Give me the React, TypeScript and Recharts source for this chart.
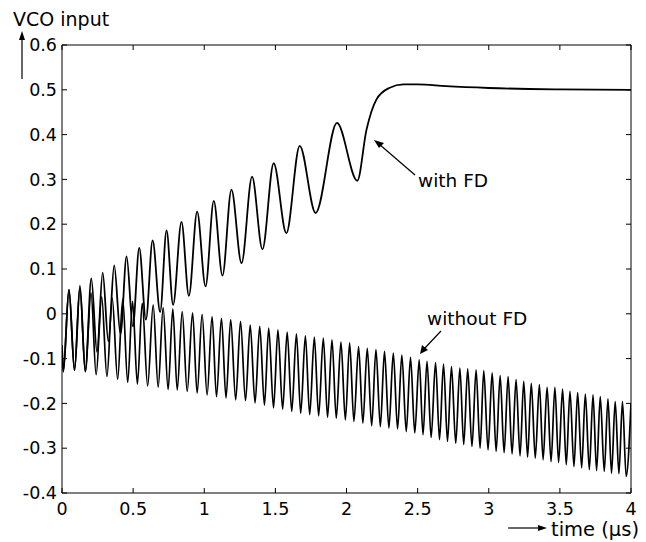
import React from "react";
import { LineChart, Line, XAxis, YAxis } from "recharts";

// time (µs), VCO input — extrema and key points
const withoutFd: [number, number][] = [
  [0, -0.07], [0.009, -0.129], [0.049, 0.054], [0.088, -0.126], [0.126, 0.057],
  [0.164, -0.129], [0.204, 0.047], [0.24, -0.136], [0.279, 0.038], [0.316, -0.14],
  [0.353, 0.035], [0.391, -0.146], [0.427, 0.033], [0.462, -0.153], [0.496, 0.028],
  [0.53, -0.157], [0.564, 0.024], [0.602, -0.161], [0.641, 0.02], [0.676, -0.164],
  [0.711, 0.014], [0.746, -0.169], [0.779, 0.011], [0.81, -0.17], [0.845, 0.005],
  [0.88, -0.173], [0.918, 0.002], [0.95, -0.177], [0.985, -0.001], [1.02, -0.181],
  [1.055, -0.006], [1.086, -0.185], [1.121, -0.01], [1.153, -0.188], [1.186, -0.013],
  [1.221, -0.192], [1.255, -0.017], [1.29, -0.194], [1.323, -0.025], [1.357, -0.199],
  [1.39, -0.028], [1.423, -0.204], [1.453, -0.032], [1.487, -0.21], [1.518, -0.036],
  [1.551, -0.213], [1.583, -0.041], [1.615, -0.218], [1.648, -0.045], [1.678, -0.222],
  [1.711, -0.049], [1.741, -0.225], [1.774, -0.052], [1.804, -0.228], [1.837, -0.054],
  [1.867, -0.231], [1.898, -0.058], [1.928, -0.233], [1.961, -0.063], [1.992, -0.237],
  [2.022, -0.065], [2.052, -0.24], [2.085, -0.073], [2.115, -0.244], [2.146, -0.077],
  [2.177, -0.25], [2.207, -0.08], [2.238, -0.252], [2.267, -0.084], [2.298, -0.255],
  [2.329, -0.088], [2.359, -0.257], [2.389, -0.092], [2.42, -0.263], [2.45, -0.097],
  [2.48, -0.266], [2.511, -0.103], [2.538, -0.27], [2.566, -0.106], [2.595, -0.276],
  [2.626, -0.109], [2.654, -0.281], [2.682, -0.112], [2.71, -0.285], [2.738, -0.118],
  [2.768, -0.289], [2.797, -0.121], [2.824, -0.292], [2.852, -0.123], [2.882, -0.296],
  [2.911, -0.125], [2.939, -0.3], [2.965, -0.127], [2.995, -0.304], [3.024, -0.132],
  [3.052, -0.307], [3.08, -0.138], [3.108, -0.31], [3.136, -0.14], [3.164, -0.313],
  [3.192, -0.147], [3.22, -0.317], [3.246, -0.151], [3.273, -0.32], [3.299, -0.155],
  [3.327, -0.322], [3.356, -0.158], [3.382, -0.326], [3.41, -0.164], [3.438, -0.33],
  [3.465, -0.164], [3.491, -0.332], [3.519, -0.168], [3.545, -0.337], [3.571, -0.173],
  [3.599, -0.341], [3.625, -0.176], [3.653, -0.344], [3.679, -0.179], [3.707, -0.348],
  [3.733, -0.181], [3.758, -0.35], [3.784, -0.185], [3.812, -0.352], [3.838, -0.19],
  [3.863, -0.356], [3.889, -0.196], [3.915, -0.357], [3.94, -0.196], [3.966, -0.363],
  [4.0, -0.2],
];

const withFd: [number, number][] = [
  [0, -0.07], [0.009, -0.129], [0.049, 0.054], [0.088, -0.126], [0.126, 0.063],
  [0.164, -0.129], [0.206, 0.079], [0.246, -0.085], [0.286, 0.092], [0.326, -0.062],
  [0.367, 0.108], [0.411, -0.045], [0.454, 0.128], [0.498, -0.028], [0.543, 0.147],
  [0.59, -0.013], [0.637, 0.164], [0.69, 0.004], [0.735, 0.186], [0.781, 0.02],
  [0.84, 0.205], [0.892, 0.04], [0.95, 0.228], [1.009, 0.061], [1.067, 0.252],
  [1.128, 0.085], [1.191, 0.277], [1.262, 0.113], [1.336, 0.306], [1.409, 0.144],
  [1.488, 0.336], [1.577, 0.18], [1.671, 0.375], [1.783, 0.225], [1.933, 0.426],
  [2.076, 0.297], [2.14, 0.41], [2.21, 0.478], [2.3, 0.504], [2.4, 0.512],
  [2.5, 0.512], [2.7, 0.508], [3.0, 0.504], [3.5, 0.501], [4.0, 0.5],
];

const xTicks = [0, 0.5, 1, 1.5, 2, 2.5, 3, 3.5, 4];
const yTicks = [-0.4, -0.3, -0.2, -0.1, 0, 0.1, 0.2, 0.3, 0.4, 0.5, 0.6];

const toRows = (pts: [number, number][]) => pts.map(([t, v]) => ({ t, v }));

const FONT = "DejaVu Sans";
const TICK_FS = 17.5;
const PLOT = { left: 62, right: 631, top: 45, bottom: 493 };
const TL = 5;

const BottomTick = (props: any) => {
  const { x, y, payload } = props;
  return (
    <g>
      <line x1={x} x2={x} y1={PLOT.bottom} y2={PLOT.bottom - TL} stroke="#000" strokeWidth={1} />
      <line x1={x} x2={x} y1={PLOT.top} y2={PLOT.top + TL} stroke="#000" strokeWidth={1} />
      <text x={x} y={y} dy="0.71em" textAnchor="middle" fontSize={TICK_FS} fontFamily={FONT} fill="#000">
        {String(payload.value)}
      </text>
    </g>
  );
};

const LeftTick = (props: any) => {
  const { x, y, payload } = props;
  return (
    <g>
      <line x1={PLOT.left} x2={PLOT.left + TL} y1={y} y2={y} stroke="#000" strokeWidth={1} />
      <line x1={PLOT.right} x2={PLOT.right - TL} y1={y} y2={y} stroke="#000" strokeWidth={1} />
      <text x={x} y={y} dy="0.355em" textAnchor="end" fontSize={TICK_FS} fontFamily={FONT} fill="#000">
        {String(payload.value)}
      </text>
    </g>
  );
};

export default function App() {
  return (
    <div style={{ position: "absolute", left: 0, top: 0, width: 646, height: 542, background: "#fff" }}>
      <LineChart width={646} height={542} margin={{ top: 44, right: 14, bottom: 0, left: 0 }}>
        <XAxis
          xAxisId={0}
          dataKey="t"
          type="number"
          domain={[0, 4]}
          ticks={xTicks}
          allowDataOverflow
          height={49}
          tickSize={0}
          tickLine={false}
          tickMargin={10}
          tick={<BottomTick />}
          stroke="#000"
        />
        <XAxis
          xAxisId="top"
          orientation="top"
          dataKey="t"
          type="number"
          domain={[0, 4]}
          ticks={xTicks}
          allowDataOverflow
          height={1}
          tickSize={0}
          tickLine={false}
          tick={false}
          stroke="#000"
        />
        <YAxis
          yAxisId={0}
          type="number"
          domain={[-0.4, 0.6]}
          ticks={yTicks}
          allowDataOverflow
          width={62}
          tickSize={0}
          tickLine={false}
          tickMargin={5}
          tick={<LeftTick />}
          stroke="#000"
        />
        <YAxis
          yAxisId="right"
          orientation="right"
          type="number"
          domain={[-0.4, 0.6]}
          ticks={yTicks}
          allowDataOverflow
          width={1}
          tickSize={0}
          tickLine={false}
          tick={false}
          stroke="#000"
        />
        <Line
          xAxisId={0}
          yAxisId={0}
          data={toRows(withoutFd)}
          dataKey="v"
          type="monotone"
          stroke="#000"
          strokeWidth={1.7}
          dot={false}
          isAnimationActive={false}
        />
        <Line
          xAxisId={0}
          yAxisId={0}
          data={toRows(withFd)}
          dataKey="v"
          type="monotone"
          stroke="#000"
          strokeWidth={1.8}
          dot={false}
          isAnimationActive={false}
        />
      </LineChart>
      <svg
        width={646}
        height={542}
        style={{ position: "absolute", left: 0, top: 0, pointerEvents: "none" }}
        fontFamily={FONT}
      >
        <text x={13} y={26} fontSize={19} fill="#000">VCO input</text>
        <line x1={22} y1={79} x2={22} y2={36} stroke="#000" strokeWidth={1.2} />
        <polygon points="19,40 22,31 25,40" fill="#000" />

        <line x1={508} y1={528} x2={540} y2={528} stroke="#000" strokeWidth={1.2} />
        <polygon points="538,525 547,528 538,531" fill="#000" />
        <text x={551} y={536} fontSize={19.5} fill="#000">time (μs)</text>

        <text x={418} y={187} fontSize={18.5} fill="#000">with FD</text>
        <line x1={415} y1={175} x2={379} y2={144} stroke="#000" strokeWidth={1.2} />
        <polygon points="374,140 384,143 379,148" fill="#000" />

        <text x={427} y={325} fontSize={18.5} fill="#000">without FD</text>
        <line x1={441} y1={331} x2={424} y2={349} stroke="#000" strokeWidth={1.2} />
        <polygon points="420,354 422,345 428,350" fill="#000" />
      </svg>
    </div>
  );
}
